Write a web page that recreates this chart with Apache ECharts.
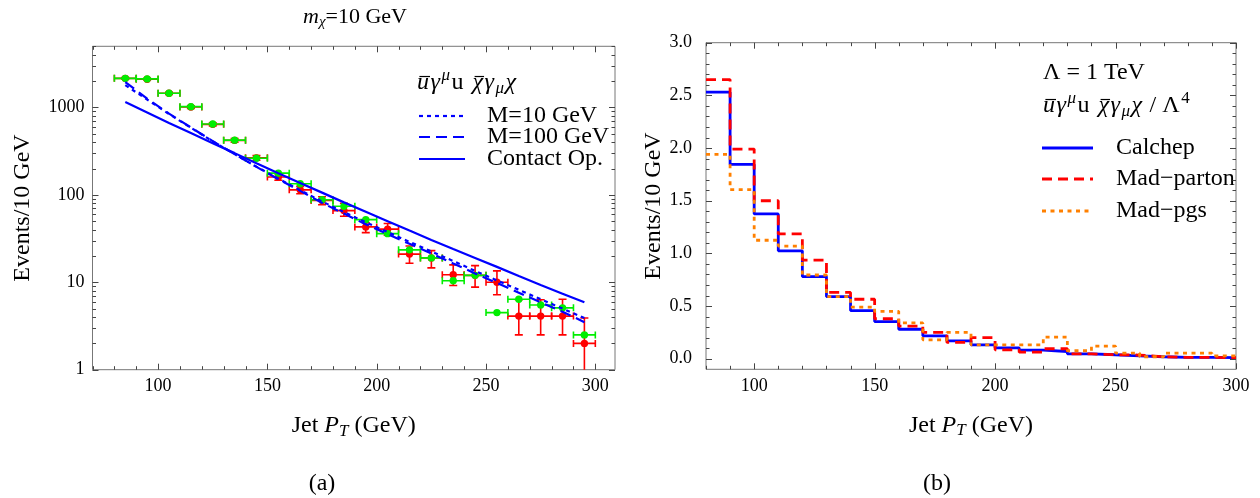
<!DOCTYPE html>
<html>
<head>
<meta charset="utf-8">
<title>Jet pT spectra</title>
<script src="https://cdn.jsdelivr.net/npm/echarts@6/dist/echarts.min.js"></script>
<style>
  html, body { margin: 0; padding: 0; background: #fff; }
  #chart { width: 1260px; height: 498px; }
</style>
</head>
<body>
<div id="chart"></div>
<script>
// (a) m_chi = 10 GeV, bin centres in GeV
const binCentres = [85, 95, 105, 115, 125, 135, 145, 155, 165, 175, 185, 195, 205, 215, 225, 235, 245, 255, 265, 275, 285, 295]
const redEvents = [2150, 2100, 1450, 1010, 640, 420, 265, 160, 114, 86, 66, 43, 40.5, 21, 19, 12.2, 12, 10, 4.1, 4.1, 4.1, 2.0]
const redHigh = [2200, 2150, 1490, 1045, 665, 440, 281, 173, 125, 95, 80, 48, 47, 26, 23, 15.8, 15.5, 13.5, 6.3, 6.3, 6.4, 3.9]
const redLow = [2100, 2055, 1410, 975, 615, 400, 249, 147, 103, 77, 57, 37, 34.5, 16.5, 14.6, 9.2, 8.8, 7.2, 2.5, 2.5, 2.5, 0.9]
const greenEvents = [2150, 2120, 1450, 1020, 645, 422, 262, 177, 134, 88, 74, 52, 36, 23.5, 19, 10.4, 12, 4.5, 6.4, 5.5, 5.1, 2.5]
const mediator10 = [1800, 1230, 840, 585, 410, 292, 210, 153, 113, 84, 63.5, 48.5, 37.5, 29, 22.5, 17.5, 13.5, 10.5, 8.2, 6.4, 5.0, 3.9]
const mediator100 = [1950, 1260, 850, 590, 412, 292, 209, 151, 111, 81, 61, 46, 35.5, 27.5, 21.4, 16.4, 12.6, 9.8, 7.6, 5.9, 4.6, 3.5]
const contactOp = [1150, 875, 665, 510, 390, 300, 230, 177, 137, 106, 82, 64, 50, 39, 30.5, 24, 19, 15, 11.8, 9.3, 7.4, 5.9]
const binHalfWidth = 5

// (b) histograms, 10 GeV bins
const binEdges = [80, 90, 100, 110, 120, 130, 140, 150, 160, 170, 180, 190, 200, 210, 220, 230, 240, 250, 260, 270, 280, 290, 300]
const calchep = [2.53, 1.845, 1.375, 1.025, 0.78, 0.59, 0.457, 0.353, 0.28, 0.218, 0.17, 0.132, 0.104, 0.082, 0.069, 0.047, 0.038, 0.028, 0.019, 0.013, 0.013, 0.01]
const madParton = [2.65, 1.99, 1.50, 1.185, 0.937, 0.63, 0.565, 0.38, 0.31, 0.25, 0.155, 0.20, 0.085, 0.063, 0.095, 0.047, 0.038, 0.035, 0.019, 0.013, 0.013, 0.01]
const madPgs = [1.94, 1.605, 1.125, 1.07, 0.795, 0.59, 0.49, 0.45, 0.34, 0.18, 0.25, 0.132, 0.132, 0.132, 0.205, 0.076, 0.12, 0.054, 0.019, 0.054, 0.054, 0.028]

// ticks
const leftXTicks = [100, 150, 200, 250, 300]
const leftXMinor = [70, 80, 90, 110, 120, 130, 140, 160, 170, 180, 190, 210, 220, 230, 240, 260, 270, 280, 290]
const leftYTicks = [1, 10, 100, 1000]
const leftYMinor = [2, 3, 4, 5, 6, 7, 8, 9, 20, 30, 40, 50, 60, 70, 80, 90, 200, 300, 400, 500, 600, 700, 800, 900, 2000, 3000, 4000, 5000]
const rightXTicks = [100, 150, 200, 250, 300]
const rightXMinor = [80, 90, 110, 120, 130, 140, 160, 170, 180, 190, 210, 220, 230, 240, 260, 270, 280, 290]
const rightYTicks = [0, 0.5, 1, 1.5, 2, 2.5, 3]
const rightYMinor = [0.1, 0.2, 0.3, 0.4, 0.6, 0.7, 0.8, 0.9, 1.1, 1.2, 1.3, 1.4, 1.6, 1.7, 1.8, 1.9, 2.1, 2.2, 2.3, 2.4, 2.6, 2.7, 2.8, 2.9]

const serif = 'Liberation Serif'
const blue = '#0000ff'
const red = '#ff0000'
const orange = '#ff8000'
const green = '#00ee00'
const tickColor = '#444'

function richSet(size) {
  const small = Math.round(size * 0.7)
  const shift = Math.round(size * 0.45)
  const tok = (extra) => Object.assign({ fontFamily: serif, fontSize: size, color: '#000', fill: '#000' }, extra)
  return {
    n: tok({}),
    i: tok({ fontStyle: 'italic' }),
    sub: tok({ fontStyle: 'italic', fontSize: small, padding: [shift, 0, 0, 0] }),
  }
}

const nameStyle = { fontFamily: serif, fontSize: 24, color: '#000', rich: richSet(24) }
const labelStyle = { fontFamily: serif, fontSize: 18, color: '#000' }
const bare = { splitLine: { show: false }, axisTick: { show: false }, axisLine: { show: false, onZero: false } }

// frame ticks on all four sides, placed through the axes
function frameTicks(xAxisIndex, yAxisIndex, xMajor, xMinor, yMajor, yMinor, xRef, yRef) {
  const rows = []
  xMajor.forEach((v) => rows.push([0, v, 6]))
  xMinor.forEach((v) => rows.push([0, v, 3.5]))
  yMajor.forEach((v) => rows.push([1, v, 6]))
  yMinor.forEach((v) => rows.push([1, v, 3.5]))
  return {
    type: 'custom',
    xAxisIndex,
    yAxisIndex,
    silent: true,
    clip: false,
    z: 1,
    data: rows,
    renderItem(params, api) {
      const cs = params.coordSys
      const dim = api.value(0)
      const v = api.value(1)
      const len = api.value(2)
      const style = { stroke: tickColor, lineWidth: 1 }
      if (dim === 0) {
        const px = Math.round(api.coord([v, yRef])[0]) + 0.5
        return {
          type: 'group',
          children: [
            { type: 'line', shape: { x1: px, y1: cs.y + cs.height, x2: px, y2: cs.y + cs.height - len }, style },
            { type: 'line', shape: { x1: px, y1: cs.y, x2: px, y2: cs.y + len }, style },
          ],
        }
      }
      const py = Math.round(api.coord([xRef, v])[1]) + 0.5
      return {
        type: 'group',
        children: [
          { type: 'line', shape: { x1: cs.x, y1: py, x2: cs.x + len, y2: py }, style },
          { type: 'line', shape: { x1: cs.x + cs.width, y1: py, x2: cs.x + cs.width - len, y2: py }, style },
        ],
      }
    },
  }
}

function errorBars(color, vertical) {
  return function (params, api) {
    const x = api.value(0)
    const y = api.value(1)
    const c = api.coord([x, y])
    const l = api.coord([x - binHalfWidth, y])
    const r = api.coord([x + binHalfWidth, y])
    const style = { stroke: color, lineWidth: 1.6 }
    const kids = [
      { type: 'line', shape: { x1: l[0], y1: l[1], x2: r[0], y2: r[1] }, style },
      { type: 'line', shape: { x1: l[0], y1: l[1] - 3.5, x2: l[0], y2: l[1] + 3.5 }, style },
      { type: 'line', shape: { x1: r[0], y1: r[1] - 3.5, x2: r[0], y2: r[1] + 3.5 }, style },
    ]
    if (vertical) {
      const lo = api.coord([x, api.value(2)])
      const hi = api.coord([x, api.value(3)])
      kids.push(
        { type: 'line', shape: { x1: lo[0], y1: lo[1], x2: hi[0], y2: hi[1] }, style },
        { type: 'line', shape: { x1: lo[0] - 4, y1: lo[1], x2: lo[0] + 4, y2: lo[1] }, style },
        { type: 'line', shape: { x1: hi[0] - 4, y1: hi[1], x2: hi[0] + 4, y2: hi[1] }, style }
      )
    }
    kids.push({ type: 'circle', shape: { cx: c[0], cy: c[1], r: 3.7 }, style: { fill: color } })
    return { type: 'group', children: kids }
  }
}

function curve(name, values, dash) {
  return {
    name,
    type: 'line',
    xAxisIndex: 0,
    yAxisIndex: 0,
    data: binCentres.map((x, i) => [x, values[i]]),
    showSymbol: false,
    lineStyle: { color: blue, width: 2.2, type: dash },
    z: 5,
  }
}

function histogram(name, values, color, dash) {
  return {
    name,
    type: 'line',
    step: 'end',
    xAxisIndex: 1,
    yAxisIndex: 2,
    data: binEdges.map((e, i) => [e, values[Math.min(i, values.length - 1)]]),
    showSymbol: false,
    lineStyle: { color, width: 2.8, type: dash },
  }
}

function legendLine(x1, x2, y, color, dash, width) {
  return { type: 'line', shape: { x1, y1: y, x2, y2: y }, style: { stroke: color, lineWidth: width, lineDash: dash } }
}

function text(x, y, str, size, align) {
  return {
    type: 'text',
    x,
    y,
    style: {
      text: str,
      rich: richSet(size),
      fontFamily: serif,
      fontSize: size,
      fill: '#000',
      align: align || 'left',
      verticalAlign: 'middle',
    },
  }
}

// formula set piece by piece so the bars sit over u and chi
const measure = document.createElement('canvas').getContext('2d')
function formula(x, mid, parts, size) {
  const out = []
  let cx = x
  parts.forEach((p) => {
    const fs = p.s ? Math.round(size * 0.7) : size
    const font = (p.it ? 'italic ' : '') + fs + 'px "' + serif + '"'
    measure.font = font
    const w = measure.measureText(p.t).width
    const dy = p.s === 'sup' ? -size * 0.3 : p.s === 'sub' ? size * 0.22 : 0
    out.push({ type: 'text', x: cx, y: mid + dy, style: { text: p.t, font, fill: '#000', align: 'left', verticalAlign: 'middle' } })
    if (p.bar) {
      const by = mid - size * 0.27
      out.push({ type: 'line', shape: { x1: cx + w * 0.2, y1: by, x2: cx + w + 1, y2: by }, style: { stroke: '#000', lineWidth: 1.2 } })
    }
    cx += w + (p.gap || 1.5)
  })
  return out
}

const operatorParts = [
  { t: 'u', it: true, bar: true },
  { t: '\u03B3', it: true },
  { t: '\u03BC', it: true, s: 'sup' },
  { t: 'u ', gap: 3 },
  { t: '\u03C7', it: true, bar: true },
  { t: '\u03B3', it: true },
  { t: '\u03BC', it: true, s: 'sub' },
  { t: '\u03C7', it: true },
]

const chart = echarts.init(document.getElementById('chart'), null, { renderer: 'canvas' })
chart.setOption({
  animation: false,
  backgroundColor: '#fff',
  textStyle: { fontFamily: serif },
  grid: [
    { left: 92.5, top: 46.3, width: 522.5, height: 323.4, show: true, borderColor: '#777', borderWidth: 1 },
    { left: 706, top: 42.7, width: 530, height: 326.6, show: true, borderColor: '#777', borderWidth: 1 },
  ],
  xAxis: [
    Object.assign({}, bare, {
      gridIndex: 0, type: 'value', position: 'bottom', min: 70, max: 309,
      axisLabel: Object.assign({ customValues: leftXTicks, margin: 8 }, labelStyle),
      name: 'Jet {i|P}{sub|T} (GeV)', nameLocation: 'middle', nameGap: 42, nameTextStyle: nameStyle,
    }),
    Object.assign({}, bare, {
      gridIndex: 1, type: 'value', position: 'bottom', min: 80, max: 300,
      axisLabel: Object.assign({ customValues: rightXTicks, margin: 8 }, labelStyle),
      name: 'Jet {i|P}{sub|T} (GeV)', nameLocation: 'middle', nameGap: 42, nameTextStyle: nameStyle,
    }),
  ],
  yAxis: [
    { gridIndex: 0, type: 'log', position: 'left', min: 1, max: 5000, show: false },
    Object.assign({}, bare, {
      gridIndex: 0, type: 'value', position: 'left', min: 0, max: Math.log10(5000),
      axisLabel: Object.assign({
        customValues: leftYTicks.map(Math.log10),
        formatter: (v) => String(Math.round(Math.pow(10, v))),
        margin: 8,
      }, labelStyle),
      name: 'Events/10 GeV', nameLocation: 'middle', nameRotate: 90, nameGap: 58, nameTextStyle: nameStyle,
    }),
    Object.assign({}, bare, {
      gridIndex: 1, type: 'value', position: 'left', min: -0.1, max: 3.0,
      axisLabel: Object.assign({ customValues: rightYTicks, formatter: (v) => v.toFixed(1), margin: 14 }, labelStyle),
      name: 'Events/10 GeV', nameLocation: 'middle', nameRotate: 90, nameGap: 25, nameTextStyle: nameStyle,
    }),
  ],
  series: [
    frameTicks(0, 0, leftXTicks, leftXMinor, leftYTicks, leftYMinor, 100, 1),
    frameTicks(1, 2, rightXTicks, rightXMinor, rightYTicks, rightYMinor, 100, 0),
    {
      name: 'red',
      type: 'custom',
      xAxisIndex: 0,
      yAxisIndex: 0,
      clip: true,
      renderItem: errorBars(red, true),
      encode: { x: 0, y: 1 },
      data: binCentres.map((x, i) => [x, redEvents[i], redLow[i], redHigh[i]]),
      z: 2,
    },
    {
      name: 'green',
      type: 'custom',
      xAxisIndex: 0,
      yAxisIndex: 0,
      clip: true,
      renderItem: errorBars(green, false),
      encode: { x: 0, y: 1 },
      data: binCentres.map((x, i) => [x, greenEvents[i]]),
      z: 3,
    },
    curve('M=10 GeV', mediator10, [4, 4]),
    curve('M=100 GeV', mediator100, [11, 6]),
    curve('Contact Op.', contactOp, 'solid'),
    histogram('Calchep', calchep, blue, 'solid'),
    histogram('Mad\u2212parton', madParton, red, [10, 6]),
    histogram('Mad\u2212pgs', madPgs, orange, [4, 4.5]),
  ],
  graphic: [
    text(355, 17, '{i|m}{sub|\u03C7}{n|=10 GeV}', 22, 'center'),
    ...formula(417, 83, operatorParts, 24),
    legendLine(419, 465, 116, blue, [4, 4], 2.2),
    legendLine(419, 465, 137, blue, [11, 6], 2.2),
    legendLine(419, 465, 159, blue, null, 2.2),
    text(487, 116, 'M=10 GeV', 24),
    text(487, 137, 'M=100 GeV', 24),
    text(487, 159, 'Contact Op.', 24),

    text(1043, 73, '\u039B = 1 TeV', 24),
    ...formula(1043, 106, operatorParts.concat([{ t: ' / \u039B' }, { t: '4', s: 'sup' }]), 24),
    legendLine(1042, 1093, 148, blue, null, 2.8),
    legendLine(1042, 1093, 179, red, [10, 6], 2.8),
    legendLine(1042, 1093, 211, orange, [4, 4.5], 2.8),
    text(1116, 148, 'Calchep', 24),
    text(1116, 179, 'Mad\u2212parton', 24),
    text(1116, 211, 'Mad\u2212pgs', 24),

    text(322, 484, '(a)', 24, 'center'),
    text(937, 484, '(b)', 24, 'center'),
  ],
})
</script>
</body>
</html>
